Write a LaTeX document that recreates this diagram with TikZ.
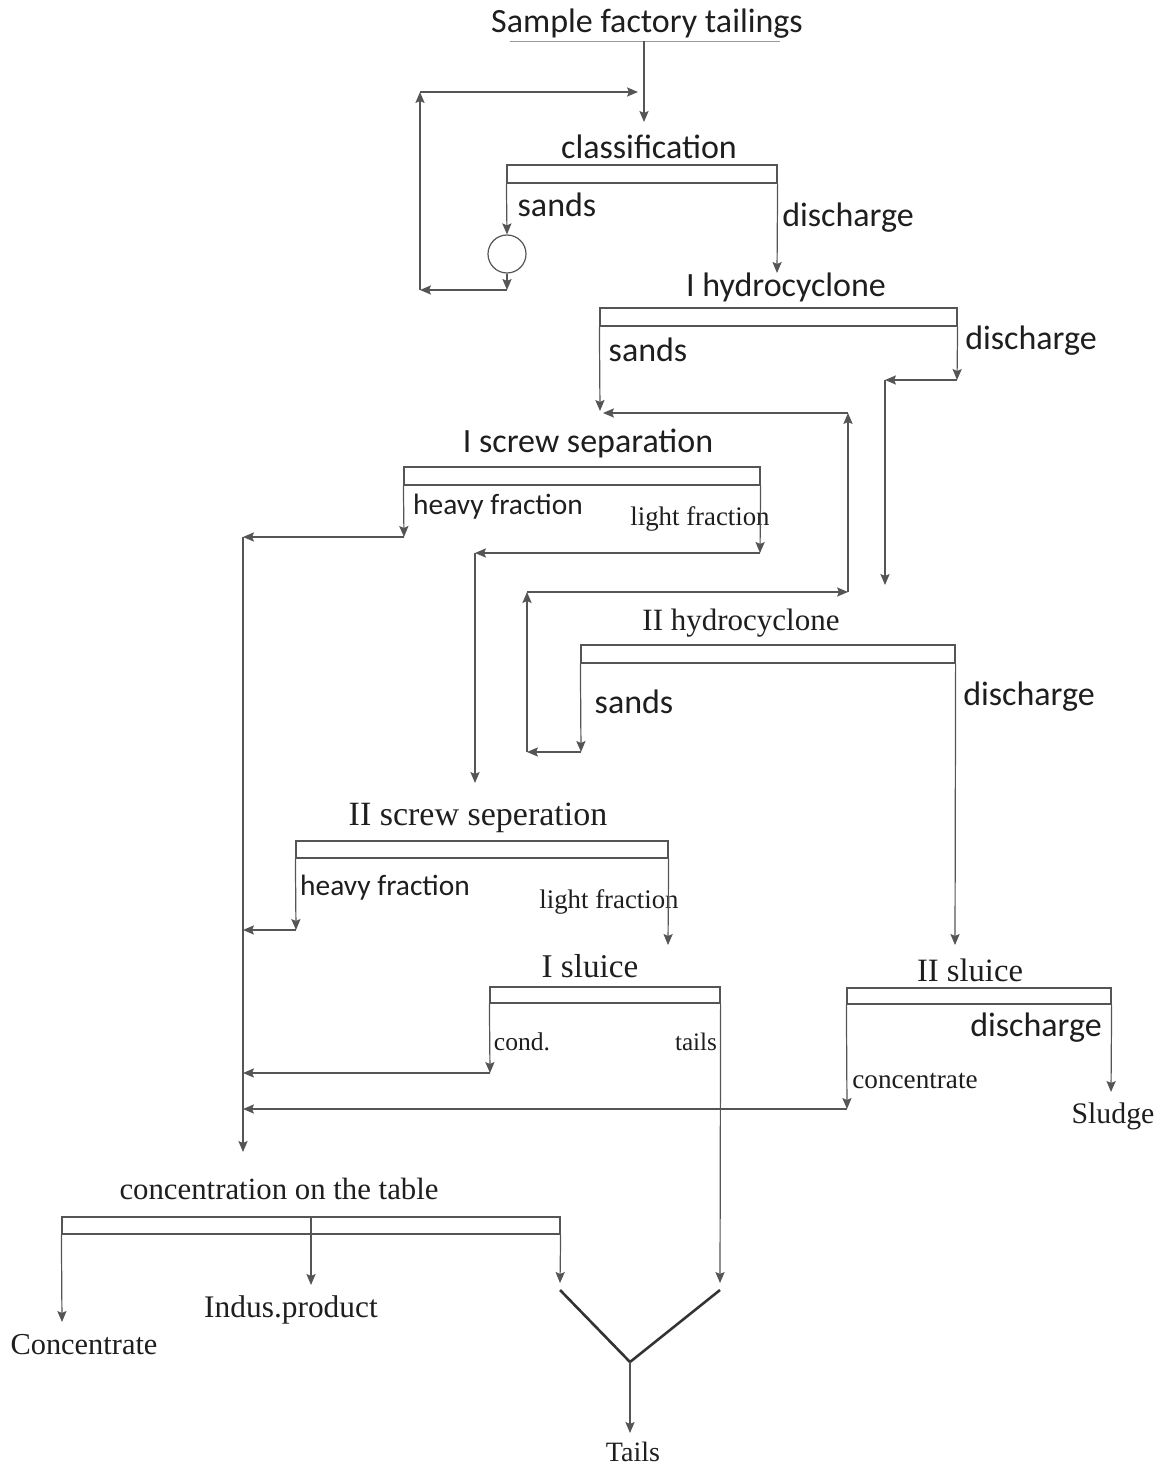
\documentclass[tikz,border=0pt]{standalone}
\usepackage{fontspec}
\setmainfont{Liberation Serif}
\setsansfont{Carlito}
\usepackage{tikz}
\usetikzlibrary{arrows.meta,positioning,fit,calc}
\definecolor{linegray}{RGB}{85,85,85}
\definecolor{inkgray}{RGB}{30,30,30}

\begin{document}
\begin{tikzpicture}[->,>={Stealth[length=5.5pt,width=4.6pt,inset=1pt]},semithick,draw=linegray,x=0.5pt,y=-0.5pt]
  \tikzset{sanslbl/.style={inner sep=0pt,text=inkgray,font=\sffamily\fontsize{#1}{#1}\selectfont},
           seriflbl/.style={inner sep=0pt,text=inkgray,font=\rmfamily\fontsize{#1}{#1}\selectfont},
           stage/.style={draw=linegray,inner sep=0pt,fit={#1}}}
  \useasboundingbox (0,0) rectangle (1163,1465);

  % feed and classification
  \node[sanslbl=17] (feed) at (647,24) {Sample factory tailings};
  \coordinate (feedl) at (510,41);
  \coordinate (feedr) at (780,41);
  \draw[-,thin,linegray!60] (feedl) -- (feedr);
  \coordinate (feedo) at (644,41);
  \coordinate (clsin) at (644,122);
  \draw (feedo) -- (clsin);

  \node[stage={(507,165) (777,183)}] (cls) {};
  \node[sanslbl=17] (clsname) at (649,147) {classification};
  \node[sanslbl=17] (clssand) at (557,205) {sands};
  \node[sanslbl=17] (clsdis) at (848,218) {discharge};
  \node[draw,circle,minimum size=19pt,inner sep=0pt] (mill) at (507,254) {};
  \coordinate (m1) at (507,290);
  \coordinate (m2) at (420,290);
  \coordinate (m3) at (420,92);
  \coordinate (m4) at (638,92);
  \coordinate (clsd) at (777,273);
  \draw (cls.south west) -- (mill.north);
  \draw (mill.south) -- (m1);
  \draw (m1) -- (m2);
  \draw (m2) -- (m3);
  \draw (m3) -- (m4);
  \draw (cls.south east) -- (clsd);

  % I hydrocyclone
  \node[stage={(600,308) (957,326)}] (hc1) {};
  \node[sanslbl=17] (hc1name) at (786,287) {I hydrocyclone};
  \node[sanslbl=17] (hc1sand) at (648,350) {sands};
  \node[sanslbl=17] (hc1dis) at (1031,341) {discharge};
  \coordinate (h1a) at (600,411);
  \coordinate (h1b) at (957,380);
  \coordinate (h1c) at (885,380);
  \coordinate (h1d) at (885,585);
  \draw (hc1.south west) -- (h1a);
  \draw (hc1.south east) -- (h1b);
  \draw (h1b) -- (h1c);
  \draw (h1c) -- (h1d);

  % I screw separation
  \node[stage={(404,467) (760,485)}] (sc1) {};
  \node[sanslbl=17] (sc1name) at (588,443) {I screw separation};
  \node[sanslbl=14.7] (sc1heavy) at (498,507) {heavy fraction};
  \node[seriflbl=13.4] (sc1light) at (700,519) {light fraction};
  \coordinate (s1a) at (404,537);
  \coordinate (s1b) at (243,537);
  \coordinate (s1c) at (243,1152);
  \coordinate (s1d) at (760,553);
  \coordinate (s1e) at (475,553);
  \coordinate (s1f) at (475,783);
  \draw (sc1.south west) -- (s1a);
  \draw (s1a) -- (s1b);
  \draw (s1b) -- (s1c);
  \draw (sc1.south east) -- (s1d);
  \draw (s1d) -- (s1e);
  \draw (s1e) -- (s1f);

  % II hydrocyclone
  \node[stage={(581,645) (955,663)}] (hc2) {};
  \node[seriflbl=15.5] (hc2name) at (741,623) {II hydrocyclone};
  \node[sanslbl=17] (hc2sand) at (634,702) {sands};
  \node[sanslbl=17] (hc2dis) at (1029,697) {discharge};
  \coordinate (h2a) at (581,752);
  \coordinate (h2b) at (527,752);
  \coordinate (h2c) at (527,592);
  \coordinate (h2d) at (848,592);
  \coordinate (h2e) at (848,413);
  \coordinate (h2f) at (603,413);
  \coordinate (h2g) at (955,945);
  \draw (hc2.south west) -- (h2a);
  \draw (h2a) -- (h2b);
  \draw (h2b) -- (h2c);
  \draw (h2c) -- (h2d);
  \draw (h2d) -- (h2e);
  \draw (h2e) -- (h2f);
  \draw (hc2.south east) -- (h2g);

  % II screw separation
  \node[stage={(296,841) (668,858)}] (sc2) {};
  \node[seriflbl=17] (sc2name) at (478,818) {II screw seperation};
  \node[sanslbl=14.7] (sc2heavy) at (385,888) {heavy fraction};
  \node[seriflbl=13.4] (sc2light) at (609,902) {light fraction};
  \coordinate (s2a) at (296,930);
  \coordinate (s2b) at (243,930);
  \coordinate (s2c) at (668,945);
  \draw (sc2.south west) -- (s2a);
  \draw (s2a) -- (s2b);
  \draw (sc2.south east) -- (s2c);

  % I sluice
  \node[stage={(490,987) (720,1003)}] (sl1) {};
  \node[seriflbl=16.6] (sl1name) at (590,966) {I sluice};
  \node[seriflbl=12.8] (sl1cond) at (522,1042) {cond.};
  \node[seriflbl=12.6] (sl1tail) at (696,1042) {tails};
  \coordinate (l1a) at (490,1073);
  \coordinate (l1b) at (243,1073);
  \coordinate (l1c) at (720,1283);
  \draw (sl1.south west) -- (l1a);
  \draw (l1a) -- (l1b);
  \draw (sl1.south east) -- (l1c);

  % II sluice
  \node[stage={(847,988) (1111,1004)}] (sl2) {};
  \node[seriflbl=16.3] (sl2name) at (970,970) {II sluice};
  \node[sanslbl=17] (sl2dis) at (1036,1028) {discharge};
  \node[seriflbl=13.6] (sl2conc) at (915,1081) {concentrate};
  \node[seriflbl=14.9] (sludge) at (1113,1116) {Sludge};
  \coordinate (l2a) at (847,1109);
  \coordinate (l2b) at (243,1109);
  \coordinate (l2c) at (1111,1092);
  \draw (sl2.south west) -- (l2a);
  \draw (l2a) -- (l2b);
  \draw (sl2.south east) -- (l2c);

  % concentration on the table
  \node[stage={(62,1217) (560,1234)}] (tab) {};
  \node[seriflbl=15.4] (tabname) at (279,1189) {concentration on the table};
  \node[seriflbl=15.2] (conc) at (84,1345) {Concentrate};
  \node[seriflbl=15.7] (indus) at (291,1310) {Indus.product};
  \node[seriflbl=14] (tails) at (633,1452) {Tails};
  \coordinate (t1) at (62,1322);
  \coordinate (t2top) at (311,1217);
  \coordinate (t2) at (311,1285);
  \coordinate (t3) at (560,1283);
  \coordinate (vl) at (560,1290);
  \coordinate (vm) at (630,1362);
  \coordinate (vr) at (720,1290);
  \coordinate (t4) at (630,1433);
  \draw (tab.south west) -- (t1);
  \draw (t2top) -- (t2);
  \draw (tab.south east) -- (t3);
  \draw[-,line width=1.3pt,draw=black!80] (vl) -- (vm) -- (vr);
  \draw (vm) -- (t4);

\end{tikzpicture}
\end{document}
